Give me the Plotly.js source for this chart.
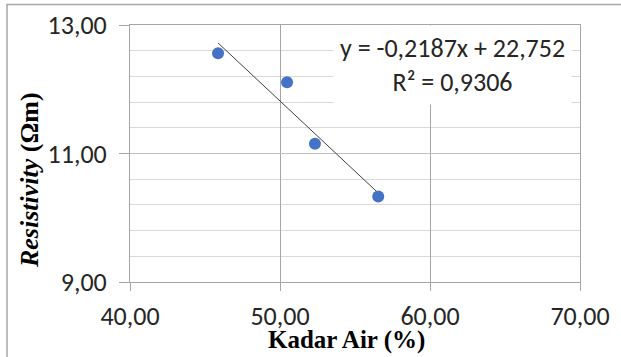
<!DOCTYPE html>
<html>
<head>
<meta charset="utf-8">
<script src="https://cdn.plot.ly/plotly-3.0.1.min.js"></script>
<style>
html,body{margin:0;padding:0;background:#fff;}
#chart{width:621px;height:357px;}
</style>
</head>
<body>
<div id="chart"></div>
<script>
// Data
const kadarAir = [45.87, 50.47, 52.33, 56.55];
const resistivity = [12.56, 12.11, 11.15, 10.33];
// Trendline coefficients as printed on the chart
const slope = -0.2187;
const intercept = 22.752;
const rSquared = 0.9306;
const xTickVals = [40, 50, 60, 70];
const yTickVals = [9, 11, 13];

function fmt(v, d) { return v.toFixed(d).replace('.', ','); }

const xMin = Math.min.apply(null, kadarAir);
const xMax = Math.max.apply(null, kadarAir);
const trendX = [xMin, xMax];
const trendY = trendX.map(x => slope * x + intercept);

const eqText = 'y = ' + (slope < 0 ? '-' : '') + fmt(Math.abs(slope), 4) + 'x + ' + fmt(intercept, 3) +
  '<br>R\u00b2 = ' + fmt(rSquared, 4);

const traces = [
  {x: trendX, y: trendY, type: 'scatter', mode: 'lines', line: {color: '#404040', width: 1}, hoverinfo: 'skip', showlegend: false},
  {x: kadarAir, y: resistivity, type: 'scatter', mode: 'markers', marker: {color: '#4472C4', size: 12}, showlegend: false}
];

const layout = {
  width: 621, height: 357,
  margin: {l: 130, r: 41, t: 25, b: 75},
  paper_bgcolor: '#fff', plot_bgcolor: '#fff',
  separators: ',.',
  xaxis: {
    range: [40, 70], tickvals: xTickVals, tickformat: '.2f',
    showgrid: true, gridcolor: '#a6a6a6', gridwidth: 1,
    showline: true, linecolor: '#a6a6a6', linewidth: 1, mirror: true,
    ticks: 'outside', ticklen: 8, tickcolor: '#a6a6a6', ticklabelstandoff: 3,
    tickfont: {family: 'Carlito', size: 26, color: '#262626'}, zeroline: false, fixedrange: true
  },
  yaxis: {
    range: [9, 13], tickvals: yTickVals, tickformat: '.2f',
    showgrid: true, gridcolor: '#bfbfbf', gridwidth: 1,
    minor: {dtick: 0.4, tick0: 9, showgrid: true, gridcolor: '#d9d9d9', gridwidth: 1, ticks: ''},
    showline: true, linecolor: '#a6a6a6', linewidth: 1, mirror: true,
    ticks: 'outside', ticklen: 10, tickcolor: '#a6a6a6', ticklabelstandoff: 7,
    tickfont: {family: 'Carlito', size: 26, color: '#262626'}, zeroline: false, fixedrange: true
  },
  annotations: [
    {text: eqText, xref: 'x', yref: 'y', x: 61.5, y: 12.37, xanchor: 'center', yanchor: 'middle',
     showarrow: false, bgcolor: '#ffffff', borderpad: 6, align: 'center',
     font: {family: 'Carlito', size: 26, color: '#262626'}},
    {text: '<b><i>Resistivity</i> (\u03a9m)</b>', xref: 'paper', yref: 'paper', x: -0.222, y: 0.397,
     xanchor: 'center', yanchor: 'middle', textangle: -90, showarrow: false,
     font: {family: 'Liberation Serif', size: 26, color: '#000000'}},
    {text: '<b>Kadar Air (%)</b>', xref: 'paper', yref: 'paper', x: 0.482, y: -0.2257,
     xanchor: 'center', yanchor: 'middle', showarrow: false,
     font: {family: 'Liberation Serif', size: 25, color: '#000000'}}
  ],
  shapes: [
    {type: 'path', xref: 'paper', yref: 'paper',
     path: 'M -0.2733 -0.32 L -0.2733 1.0798 L 1.1 1.0798',
     line: {color: '#a6a6a6', width: 1.5}}
  ]
};

Plotly.newPlot('chart', traces, layout, {displayModeBar: false, staticPlot: true});
</script>
</body>
</html>
